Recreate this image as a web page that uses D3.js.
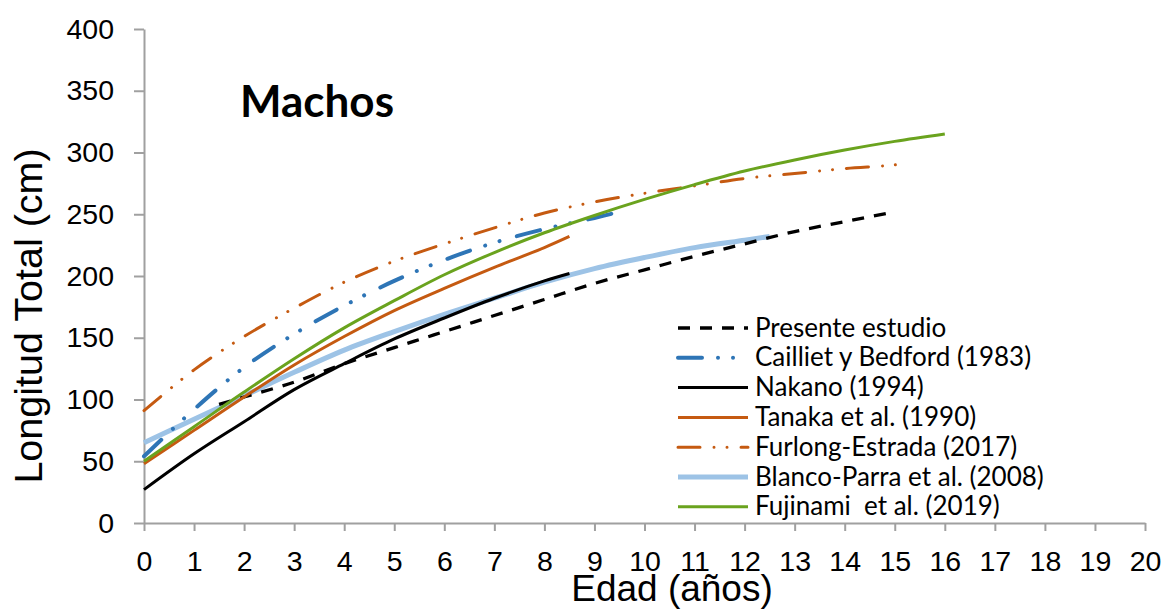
<!DOCTYPE html>
<html>
<head>
<meta charset="utf-8">
<script src="https://cdn.jsdelivr.net/npm/d3@7"></script>
<style>
  html, body { margin: 0; padding: 0; background: #ffffff; }
  svg { display: block; }
  .legend text { white-space: pre; }
</style>
</head>
<body>
<svg id="chart" width="1166" height="610"></svg>
<script>
// Curvas de crecimiento de machos: edad (años) y longitud total (cm)
const presenteEdad = [1.5, 2, 3, 4, 5, 6, 7, 8, 9, 10, 11, 12, 13, 14, 15];
const presenteLT   = [96, 102, 114, 129, 142, 155, 168, 181, 194, 205, 216, 226, 236, 244, 252];

const caillietEdad = [0, 1, 2, 3, 4, 5, 6, 7, 8, 9, 9.5];
const caillietLT   = [54, 92, 126, 153, 176, 196, 213, 227, 238, 247, 252];

const nakanoEdad = [0, 1, 2, 3, 4, 5, 6, 7, 8, 8.5];
const nakanoLT   = [27, 56, 82, 108, 129, 149, 166, 182, 196, 202];

const tanakaEdad = [0, 1, 2, 3, 4, 5, 6, 7, 8, 8.5];
const tanakaLT   = [48, 75, 102, 128, 151, 172, 190, 207, 223, 232];

const furlongEdad = [0, 1, 2, 3, 4, 5, 6, 7, 8, 9, 10, 11, 12, 13, 14, 15, 15.25];
const furlongLT   = [91, 124, 151, 174, 195, 212, 226, 239, 251, 260, 267, 273, 279, 283, 287, 290, 292];

const blancoEdad = [0, 1, 2, 3, 4, 5, 6, 7, 8, 9, 10, 11, 12, 12.5];
const blancoLT   = [65, 84, 103, 122, 140, 155, 169, 182, 195, 206, 215, 223, 229, 232];

const fujinamiEdad = [0, 1, 2, 3, 4, 5, 6, 7, 8, 9, 10, 11, 12, 13, 14, 15, 16];
const fujinamiLT   = [50, 78, 106, 133, 158, 180, 201, 219, 235, 249, 262, 274, 285, 294, 302, 309, 315];

const xTicks = d3.range(0, 21, 1);
const yTicks = d3.range(0, 401, 50);

// Estilo de cada serie (orden de la leyenda)
const series = [
  { name: "Presente estudio",           edad: presenteEdad, lt: presenteLT, color: "#000000", width: 3.3, dash: "12,10",                 cap: "butt"  },
  { name: "Cailliet y Bedford (1983)",  edad: caillietEdad, lt: caillietLT, color: "#2E75B6", width: 4,   dash: "24,16,0.01,15,0.01,18", cap: "round" },
  { name: "Nakano (1994)",              edad: nakanoEdad,   lt: nakanoLT,   color: "#000000", width: 3,   dash: null,                    cap: "butt"  },
  { name: "Tanaka et al. (1990)",       edad: tanakaEdad,   lt: tanakaLT,   color: "#C55A11", width: 3,   dash: null,                    cap: "butt"  },
  { name: "Furlong-Estrada (2017)",     edad: furlongEdad,  lt: furlongLT,  color: "#C55A11", width: 3,   dash: "22,14,0.01,13,0.01,14", cap: "round" },
  { name: "Blanco-Parra et al. (2008)", edad: blancoEdad,   lt: blancoLT,   color: "#9DC3E6", width: 5,   dash: null,                    cap: "butt"  },
  { name: "Fujinami  et al. (2019)",    edad: fujinamiEdad, lt: fujinamiLT, color: "#6AA31E", width: 3,   dash: null,                    cap: "butt"  }
];

const svg = d3.select("#chart");

const x = d3.scaleLinear().domain([0, 20]).range([144, 1145]);
const y = d3.scaleLinear().domain([0, 400]).range([523, 29]);

const axisColor = "#A0A0A0";
const tickFont = "'Liberation Sans', Arial, sans-serif";

// Eje X
const gx = svg.append("g")
  .attr("transform", `translate(0,${y(0)})`)
  .call(d3.axisBottom(x).tickValues(xTicks).tickFormat(d3.format("d")).tickSize(8).tickPadding(20).tickSizeOuter(0));

// Eje Y
const gy = svg.append("g")
  .attr("transform", `translate(${x(0)},0)`)
  .call(d3.axisLeft(y).tickValues(yTicks).tickFormat(d3.format("d")).tickSize(10).tickPadding(20).tickSizeOuter(0));

[gx, gy].forEach(g => {
  g.select(".domain").attr("stroke", axisColor).attr("stroke-width", 2);
  g.selectAll(".tick line").attr("stroke", axisColor).attr("stroke-width", 2);
  g.selectAll(".tick text")
    .attr("fill", "#000")
    .style("font-family", tickFont)
    .style("font-size", "28.5px");
});

// Curvas suavizadas
const line = d3.line()
  .x(d => x(d[0]))
  .y(d => y(d[1]))
  .curve(d3.curveCatmullRom.alpha(0.5));

const curves = svg.append("g");
// La curva gruesa queda por debajo del resto
const drawOrder = [5, 0, 2, 3, 1, 4, 6];
drawOrder.forEach(i => {
  const s = series[i];
  const pts = s.edad.map((e, j) => [e, s.lt[j]]);
  curves.append("path")
    .attr("d", line(pts))
    .attr("fill", "none")
    .attr("stroke", s.color)
    .attr("stroke-width", s.width)
    .attr("stroke-linecap", s.cap)
    .attr("stroke-linejoin", "round")
    .attr("stroke-dasharray", s.dash);
});

// Título interno
svg.append("text")
  .attr("x", 240)
  .attr("y", 117)
  .style("font-family", "Lato, 'Open Sans', sans-serif")
  .style("font-weight", "bold")
  .style("font-size", "44px")
  .attr("fill", "#000")
  .text("Machos");

// Leyenda
const legend = svg.append("g").attr("class", "legend");
series.forEach((s, i) => {
  const cy = 328 + i * 29.8;
  legend.append("line")
    .attr("x1", 678).attr("x2", 748)
    .attr("y1", cy).attr("y2", cy)
    .attr("stroke", s.color)
    .attr("stroke-width", s.width)
    .attr("stroke-linecap", s.cap)
    .attr("stroke-dasharray", s.dash);
  legend.append("text")
    .attr("x", 755)
    .attr("y", cy + 8.5)
    .style("font-family", "Lato, 'Open Sans', sans-serif")
    .style("font-size", "26px")
    .attr("fill", "#000")
    .text(s.name);
});

// Títulos de ejes
svg.append("text")
  .attr("transform", "translate(42,316) rotate(-90)")
  .attr("text-anchor", "middle")
  .style("font-family", tickFont)
  .style("font-size", "39.5px")
  .attr("fill", "#000")
  .text("Longitud Total (cm)");

svg.append("text")
  .attr("x", 672)
  .attr("y", 601)
  .attr("text-anchor", "middle")
  .style("font-family", tickFont)
  .style("font-size", "37px")
  .attr("fill", "#000")
  .text("Edad (años)");
</script>
</body>
</html>
